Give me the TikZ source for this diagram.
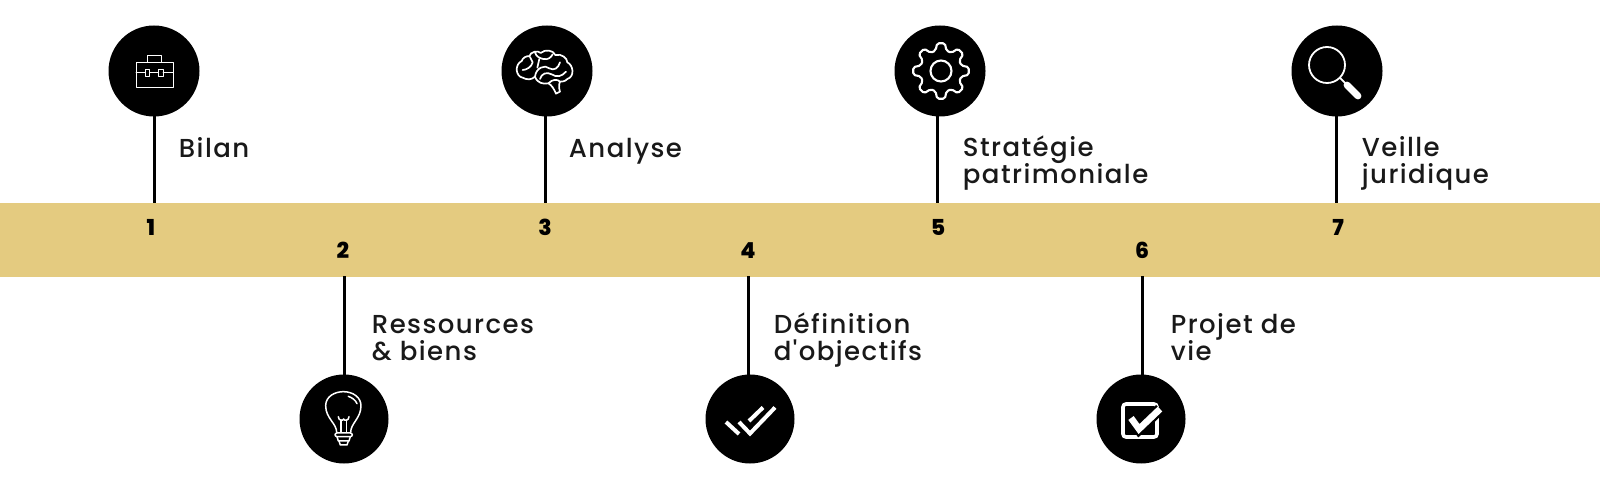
\documentclass[tikz,border=0pt]{standalone}
\usepackage{fontspec}
\setmainfont{Poppins}
\newfontfamily\labfont[LetterSpace=5.5]{Poppins Medium}
\newfontfamily\numfont{Poppins ExtraBold}
\definecolor{bandcol}{RGB}{228,203,128}
\newcommand\labstyle{\labfont\fontsize{13pt}{13.3pt}\selectfont\setlength{\lineskiplimit}{-100pt}}
\begin{document}
\begin{tikzpicture}[x=0.5pt,y=-0.5pt,
  disc/.style={circle,fill=black,draw=none,minimum size=45.5pt,inner sep=0pt},
  discb/.style={disc,minimum size=44.5pt},
  link/.style={draw=black,line width=1.5pt},
  lab/.style={anchor=base west,inner sep=0pt,align=left,font=\labstyle,text=black!90},
  num/.style={anchor=base,inner sep=0pt,font=\numfont\fontsize{11pt}{13pt}\selectfont},
  ico/.style={draw=white,line width=0.45pt,line join=round,line cap=round},
  icom/.style={ico,line width=0.85pt}]
\useasboundingbox (0,0) rectangle (1600,480);
\fill[white] (0,0) rectangle (1600,480);
\node[anchor=north west,minimum width=800pt,minimum height=37pt,inner sep=0pt,fill=bandcol] (band) at (0,203) {};
% discs
\node[disc] (c1) at (154,71) {};
\node[discb] (c2) at (344,419) {};
\node[disc] (c3) at (547,71) {};
\node[discb] (c4) at (750,419) {};
\node[disc] (c5) at (940,71) {};
\node[discb] (c6) at (1141,419) {};
\node[disc] (c7) at (1337,71) {};
% connector ends
\coordinate (e1) at (154,203);
\coordinate (e2) at (344,276);
\coordinate (e3) at (545,203);
\coordinate (e4) at (748,276);
\coordinate (e5) at (937,203);
\coordinate (e6) at (1142.5,276);
\coordinate (e7) at (1336.5,203);
\foreach \i in {1,...,7}{\draw[link] (c\i.center -| e\i) -- (e\i);}
% numbers
\node[num] (n1) at (151,236) {1};
\node[num] (n2) at (343,259) {2};
\node[num] (n3) at (545,236) {3};
\node[num] (n4) at (748,259) {4};
\node[num] (n5) at (938,236) {5};
\node[num] (n6) at (1142,259) {6};
\node[num] (n7) at (1338,236) {7};
% labels
\node[lab] (t1) at (178.5,157.5) {Bilan};
\node[lab] (t3) at (568.5,157.5) {Analyse};
\node[lab] (t5) at (962.5,183.5) {Stratégie\\patrimoniale};
\node[lab] (t7) at (1361.5,183.5) {Veille\\juridique};
\node[lab] (t2) at (371.5,360.5) {Ressources\\\& biens};
\node[lab] (t4) at (773.5,360.5) {Définition\\d'objectifs};
\node[lab] (t6) at (1170.5,360.5) {Projet de\\vie};
% briefcase
\draw[ico] (136,62) rectangle (173,87);
\draw[ico] (147,62) -- (147,55) -- (161,55) -- (161,62);
\draw[ico] (136,72.5) -- (145,72.5) (149.5,72.5) -- (158.5,72.5) (163,72.5) -- (173,72.5);
\draw[ico] (145,69) rectangle (149.5,76);
\draw[ico] (158.5,69) rectangle (163,76);
% brain
\begin{scope}[shift={(480,15)},x=1pt/6,y=-1pt/6]
\draw[icom] (128,188) .. controls (108,185) and (102,150) .. (125,138)
  .. controls (128,128) and (140,122) .. (148,124)
  .. controls (150,110) and (175,105) .. (182,114)
  .. controls (195,102) and (220,105) .. (226,120)
  .. controls (245,115) and (262,130) .. (262,142)
  .. controls (280,150) and (285,185) .. (262,192)
  .. controls (255,200) and (245,200) .. (240,200)
  .. controls (235,210) and (238,225) .. (240,230)
  -- (228,236)
  .. controls (222,222) and (215,210) .. (205,205)
  .. controls (190,208) and (172,205) .. (165,185)
  .. controls (155,195) and (140,195) .. (128,188);
\draw[icom] (165,112) .. controls (168,125) and (180,130) .. (190,132);
\draw[icom] (128,165) .. controls (140,165) and (155,155) .. (158,142) (158,142) -- (150,126);
\draw[icom] (190,132) .. controls (205,135) and (212,128) .. (218,118);
\draw[icom] (165,185) .. controls (168,158) and (195,148) .. (208,160) (208,160) .. controls (222,168) and (235,160) .. (240,142);
\draw[icom] (180,192) .. controls (185,175) and (200,170) .. (215,178) (215,178) .. controls (230,188) and (245,185) .. (258,170);
\draw[icom] (205,205) .. controls (218,192) and (232,192) .. (240,200);
\draw[icom] (178,132) -- (172,158);
\end{scope}
% gear
\begin{scope}[shift={(941,71)}]
\draw[ico,line width=1.05pt,rounded corners=0.9pt] (-105:21)
  \foreach \a in {-90,-45,...,225}{
    -- ({\a-15}:21) -- ({\a-8}:28) -- ({\a+8}:28) -- ({\a+15}:21)} -- cycle;
\draw[ico,line width=1.05pt] (0,0) circle (10.5);
\end{scope}
% magnifier
\draw[ico,line width=0.9pt] (1327,65) circle (18);
\draw[ico,line width=0.9pt] (1340,78) -- (1346,84);
\draw[draw=white,line width=3.4pt,line cap=round] (1347,85) -- (1358,96);
% bulb
\begin{scope}[shift={(285,355)},x=1pt/6,y=-1pt/6]
\draw[ico,line width=0.75pt] (155,232) .. controls (155,205) and (122,190) .. (122,152) .. controls (122,124) and (150,110) .. (175,110) .. controls (205,110) and (228,128) .. (228,152) .. controls (228,190) and (197,205) .. (197,232);
\draw[ico,line width=0.75pt] (168,232) -- (168,195) (184,232) -- (184,195);
\draw[ico,line width=0.75pt] (160,185) .. controls (160,198) and (175,198) .. (176,192) .. controls (177,198) and (192,198) .. (192,185);
\draw[ico,line width=0.75pt] (190,124) .. controls (202,128) and (212,136) .. (216,146);
\draw[ico,line width=0.75pt,rounded corners=1pt] (150,234) rectangle (202,245);
\draw[ico,line width=0.75pt] (156,245) -- (160,258) -- (192,258) -- (196,245);
\draw[ico,line width=0.75pt] (162,258) -- (166,270) -- (186,270) -- (190,258);
\end{scope}
% double check
\draw[draw=white,line width=2pt] (726,422) -- (739,434);
\draw[draw=white,line width=2pt] (739,422) -- (750,433.5) -- (775,407.5);
\draw[draw=white,line width=2pt] (749,421) -- (763,407.5);
% checkbox
\draw[draw=white,line width=1.8pt,rounded corners=1.5pt] (1123,404) rectangle (1157,437);
\draw[draw=black,line width=5.6pt] (1131,418) -- (1139,429) -- (1160,409);
\draw[draw=white,line width=3.3pt] (1131,418) -- (1139,429) -- (1160,409);
\end{tikzpicture}
\end{document}
